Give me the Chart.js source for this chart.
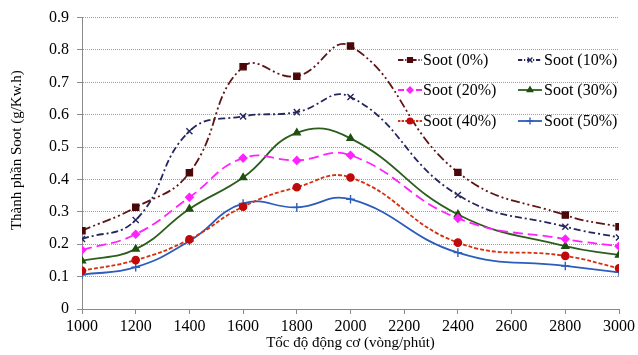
<!DOCTYPE html>
<html>
<head>
<meta charset="utf-8">
<script src="https://cdn.jsdelivr.net/npm/chart.js@4.4.1/dist/chart.umd.min.js"></script>
<style>
  body { margin: 0; background: #fff; }
</style>
</head>
<body>
<canvas id="myChart" width="638" height="355"></canvas>
<script>
// data block
const rpm = [1000, 1200, 1400, 1600, 1800, 2000, 2400, 2800, 3000];
const soot0  = [0.242, 0.314, 0.421, 0.748, 0.719, 0.812, 0.422, 0.290, 0.254];
const soot10 = [0.216, 0.275, 0.549, 0.595, 0.608, 0.655, 0.352, 0.254, 0.221];
const soot20 = [0.182, 0.231, 0.345, 0.466, 0.459, 0.475, 0.280, 0.216, 0.194];
const soot30 = [0.149, 0.185, 0.309, 0.406, 0.544, 0.527, 0.292, 0.194, 0.167];
const soot40 = [0.118, 0.151, 0.215, 0.316, 0.376, 0.406, 0.205, 0.164, 0.126];
const soot50 = [0.106, 0.129, 0.210, 0.326, 0.314, 0.339, 0.174, 0.133, 0.113];
const seriesNames = ['Soot (0%)', 'Soot (10%)', 'Soot (20%)', 'Soot (30%)', 'Soot (40%)', 'Soot (50%)'];
const yTicks = [0, 0.1, 0.2, 0.3, 0.4, 0.5, 0.6, 0.7, 0.8, 0.9];

const FONT = "'Liberation Serif', 'Times New Roman', serif";

function pts(arr) {
    return arr.map(function(v, i) { return {x: rpm[i], y: v}; });
}

let data = {
    datasets: [{
        label: seriesNames[0],
        data: pts(soot0),
        borderColor: '#5e1414',
        backgroundColor: '#4a0808',
        borderDash: [9, 3, 2, 3, 2, 3],
        pointStyle: 'rect',
        pointRadius: 4.3
    },
    {
        label: seriesNames[1],
        data: pts(soot10),
        borderColor: '#25265e',
        backgroundColor: '#25265e',
        borderDash: [7, 3, 2, 3],
        pointStyle: 'crossRot',
        pointRadius: 4.3
    },
    {
        label: seriesNames[2],
        data: pts(soot20),
        borderColor: '#ff22ff',
        backgroundColor: '#ff22ff',
        borderDash: [10, 5],
        pointStyle: 'rectRot',
        pointRadius: 3.8
    },
    {
        label: seriesNames[3],
        data: pts(soot30),
        borderColor: '#2b5e1c',
        backgroundColor: '#1f5010',
        borderDash: [],
        pointStyle: 'triangle',
        pointRadius: 4
    },
    {
        label: seriesNames[4],
        data: pts(soot40),
        borderColor: '#d6300f',
        backgroundColor: '#c00a0a',
        borderDash: [4, 2],
        pointStyle: 'circle',
        pointRadius: 3.6
    },
    {
        label: seriesNames[5],
        data: pts(soot50),
        borderColor: '#2c5cbc',
        backgroundColor: '#2c5cbc',
        borderDash: [],
        pointStyle: 'cross',
        pointRadius: 4.3
    }]
};

data.datasets.forEach(function(ds) {
    ds.borderWidth = 1.8;
    ds.tension = 0.45;
    ds.pointBorderColor = ds.backgroundColor;
    ds.pointBorderWidth = 1.4;
    ds.fill = false;
});

// legend drawn inside the plot, 2 columns x 3 rows
const insideLegend = {
    id: 'insideLegend',
    afterDraw(chart) {
        const ctx = chart.ctx;
        const lineX = [398, 518];
        const textX = [423, 544];
        const rowY = [60, 90, 121];
        ctx.save();
        chart.data.datasets.forEach(function(ds, i) {
            const col = i % 2, row = Math.floor(i / 2);
            const y = rowY[row];
            ctx.strokeStyle = ds.borderColor;
            ctx.lineWidth = 1.8;
            ctx.setLineDash(ds.borderDash.length ? ds.borderDash.map(function(d){ return d * 0.6; }) : []);
            ctx.beginPath();
            ctx.moveTo(lineX[col], y);
            ctx.lineTo(lineX[col] + 24, y);
            ctx.stroke();
            ctx.setLineDash([]);
            ctx.fillStyle = ds.backgroundColor;
            ctx.strokeStyle = ds.backgroundColor;
            ctx.lineWidth = 1.3;
            Chart.helpers.drawPoint(ctx, {pointStyle: ds.pointStyle, radius: ds.pointRadius * 0.8, rotation: 0, borderWidth: 1.3}, lineX[col] + 12, y);
            ctx.fillStyle = '#000';
            ctx.font = '16px ' + FONT;
            ctx.textBaseline = 'middle';
            ctx.textAlign = 'left';
            ctx.fillText(ds.label, textX[col], y + 1);
        });
        ctx.restore();
    }
};

let config = {
    type: 'line',
    data,
    options: {
        responsive: false,
        animation: false,
        layout: { padding: { left: 0, right: 19, top: 17, bottom: 0 } },
        plugins: {
            legend: { display: false },
            tooltip: { enabled: false }
        },
        scales: {
            x: {
                type: 'linear',
                min: 1000,
                max: 3000,
                ticks: {
                    stepSize: 200,
                    color: '#000',
                    font: { family: FONT, size: 16 },
                    padding: 3,
                    maxRotation: 0,
                    callback: function(v) { return String(v); }
                },
                grid: { drawOnChartArea: false, drawTicks: true, tickLength: 5, tickColor: '#8a8a8a', color: '#8a8a8a' },
                border: { color: '#8a8a8a', width: 1 },
                title: {
                    display: true,
                    text: 'Tốc độ động cơ (vòng/phút)',
                    color: '#000',
                    font: { family: FONT, size: 15 },
                    padding: { top: 0, bottom: 3 }
                },
                afterFit: function(scale) { scale.height = 46; }
            },
            y: {
                min: 0,
                max: 0.9,
                afterBuildTicks: function(scale) {
                    scale.ticks = yTicks.map(function(v) { return {value: v}; });
                },
                ticks: {
                    color: '#000',
                    font: { family: FONT, size: 16 },
                    padding: 8,
                    callback: function(v) { return v === 0 ? '0' : v.toFixed(1); }
                },
                grid: { color: '#a0a0a0', lineWidth: 1, tickLength: 5, tickColor: '#8a8a8a', tickBorderDash: [] },
                border: { color: '#8a8a8a', width: 1, dash: [1, 1] },
                title: {
                    display: true,
                    text: '\u00a0\u00a0\u00a0\u00a0\u00a0\u00a0\u00a0Thành phần Soot (g/Kw.h)',
                    color: '#000',
                    font: { family: FONT, size: 15 },
                    padding: { top: 8, bottom: 0 }
                },
                afterFit: function(scale) { scale.width = 82; }
            }
        }
    },
    plugins: [insideLegend]
};

// init block
let myChart = new Chart(document.getElementById('myChart'), config);
</script>
</body>
</html>
